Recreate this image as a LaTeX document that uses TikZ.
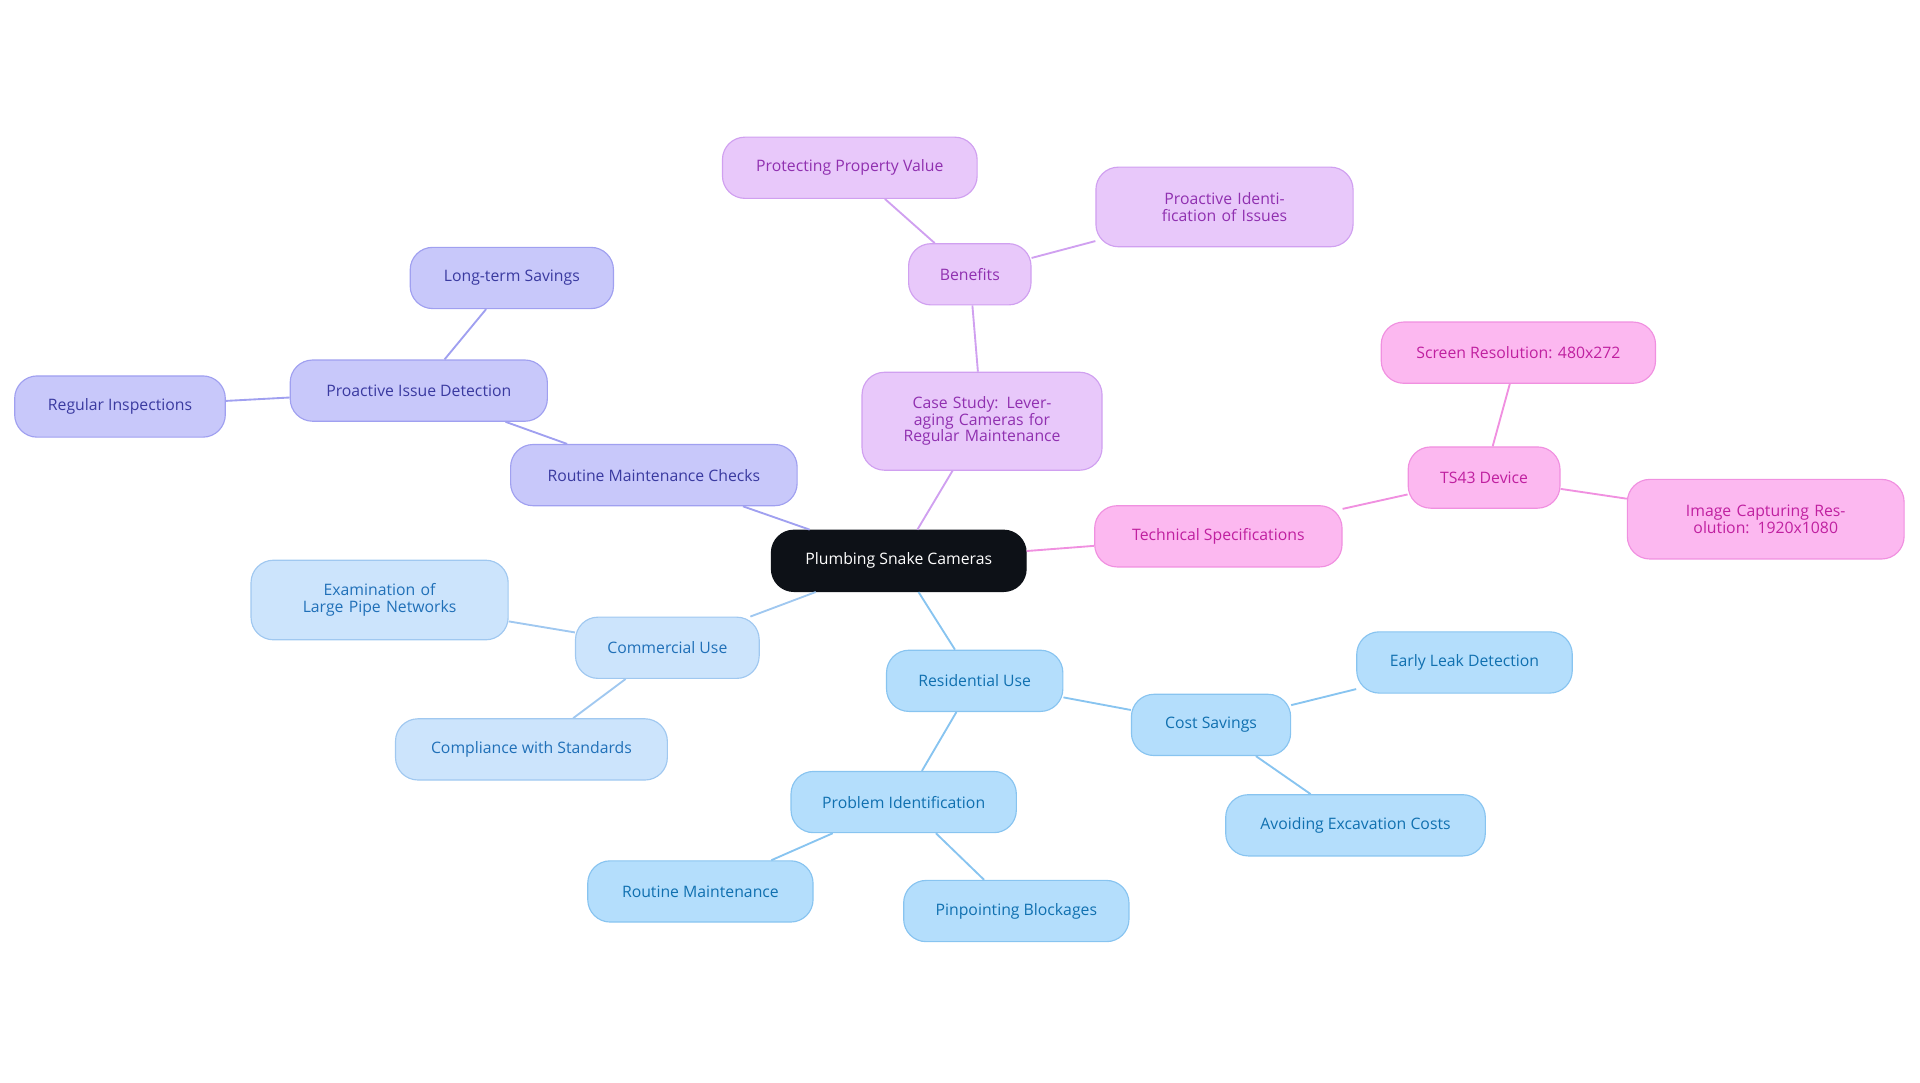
\documentclass[tikz,border=0pt]{standalone}
\usepackage{fontspec}
\setmainfont{Open Sans}
\usetikzlibrary{positioning}
\definecolor{rootC}{HTML}{0D1117}
\definecolor{indF}{HTML}{C8C8FA}\definecolor{indD}{HTML}{A0A0F0}\definecolor{indT}{HTML}{3A3AA0}
\definecolor{vioF}{HTML}{E8C8FA}\definecolor{vioD}{HTML}{D0A0F0}\definecolor{vioT}{HTML}{9030B0}
\definecolor{pinF}{HTML}{FCB8F0}\definecolor{pinD}{HTML}{F090E0}\definecolor{pinT}{HTML}{C020A0}
\definecolor{ltbF}{HTML}{CCE4FC}\definecolor{ltbD}{HTML}{A0C8F0}\definecolor{ltbT}{HTML}{2070B8}
\definecolor{skyF}{HTML}{B4DEFC}\definecolor{skyD}{HTML}{88C4F0}\definecolor{skyT}{HTML}{1070B0}
\tikzset{
  box/.style={shape=rectangle, rounded corners=0.55cm, draw, line width=0.8pt,
    minimum height=1.5cm, align=center, font=\fontsize{11}{11.5}\selectfont, inner sep=2pt},
  mw/.style={minimum width=#1*0.03cm},
  tw/.style={text width=#1*0.03cm},
  root/.style={box, fill=rootC, draw=rootC, text=white},
  ind/.style={box, fill=indF, draw=indD, text=indT},
  vio/.style={box, fill=vioF, draw=vioD, text=vioT},
  pin/.style={box, fill=pinF, draw=pinD, text=pinT},
  ltb/.style={box, fill=ltbF, draw=ltbD, text=ltbT},
  sky/.style={box, fill=skyF, draw=skyD, text=skyT},
  edge/.style={line width=1.3pt}
}
\begin{document}
\begin{tikzpicture}[x=0.03cm, y=-0.03cm]
		\useasboundingbox (0,0) rectangle (1568,884);

		\node[root, mw=208] (R) at (734,458) {Plumbing Snake Cameras};

		\node[ind, mw=234] (RMC) at (534,388) {Routine Maintenance Checks};
		\node[ind, mw=210] (PID) at (342,319) {Proactive Issue Detection};
		\node[ind, mw=166] (LTS) at (418,227) {Long-term Savings};
		\node[ind, mw=172] (RI) at (98,332) {Regular Inspections};

		\node[vio, mw=196, tw=170, minimum height=2.4cm] (CS) at (802,344) {Case Study: Leveraging Cameras for Regular Maintenance};
		\node[vio, mw=100] (BEN) at (792,224) {Benefits};
		\node[vio, mw=208] (PPV) at (694,137) {Protecting Property Value};
		\node[vio, mw=210, tw=180, minimum height=1.95cm] (PII) at (1000,169) {Proactive Identification of Issues};

		\node[pin, mw=202] (TS) at (995,438) {Technical Specifications};
		\node[pin, mw=124] (TS43) at (1212,390) {TS43 Device};
		\node[pin, mw=224] (SR) at (1240,288) {Screen Resolution: 480x272};
		\node[pin, mw=226, tw=200, minimum height=1.95cm] (ICR) at (1442,424) {Image Capturing Resolution: 1920x1080};

		\node[ltb, mw=150] (CU) at (545,529) {Commercial Use};
		\node[ltb, mw=210, tw=180, minimum height=1.95cm] (ELP) at (310,490) {Examination of Large Pipe Networks};
		\node[ltb, mw=222] (CWS) at (434,612) {Compliance with Standards};

		\node[sky, mw=144] (RU) at (796,556) {Residential Use};
		\node[sky, mw=130] (CSV) at (989,592) {Cost Savings};
		\node[sky, mw=176] (ELD) at (1196,541) {Early Leak Detection};
		\node[sky, mw=212] (AEC) at (1107,674) {Avoiding Excavation Costs};
		\node[sky, mw=184] (PRI) at (738,655) {Problem Identification};
		\node[sky, mw=184] (RM) at (572,728) {Routine Maintenance};
		\node[sky, mw=184] (PB) at (830,744) {Pinpointing Blockages};

		\draw[edge, draw=indD] (R) to (RMC);
		\draw[edge, draw=indD] (RMC) to (PID);
		\draw[edge, draw=indD] (PID) to (LTS);
		\draw[edge, draw=indD] (PID) to (RI);

		\draw[edge, draw=vioD] (R) to (CS);
		\draw[edge, draw=vioD] (CS) to (BEN);
		\draw[edge, draw=vioD] (BEN) to (PPV);
		\draw[edge, draw=vioD] (BEN) to (PII);

		\draw[edge, draw=pinD] (R) to (TS);
		\draw[edge, draw=pinD] (TS) to (TS43);
		\draw[edge, draw=pinD] (TS43) to (SR);
		\draw[edge, draw=pinD] (TS43) to (ICR);

		\draw[edge, draw=ltbD] (R) to (CU);
		\draw[edge, draw=ltbD] (CU) to (ELP);
		\draw[edge, draw=ltbD] (CU) to (CWS);

		\draw[edge, draw=skyD] (R) to (RU);
		\draw[edge, draw=skyD] (RU) to (CSV);
		\draw[edge, draw=skyD] (CSV) to (ELD);
		\draw[edge, draw=skyD] (CSV) to (AEC);
		\draw[edge, draw=skyD] (RU) to (PRI);
		\draw[edge, draw=skyD] (PRI) to (RM);
		\draw[edge, draw=skyD] (PRI) to (PB);

	\end{tikzpicture}
\end{document}
